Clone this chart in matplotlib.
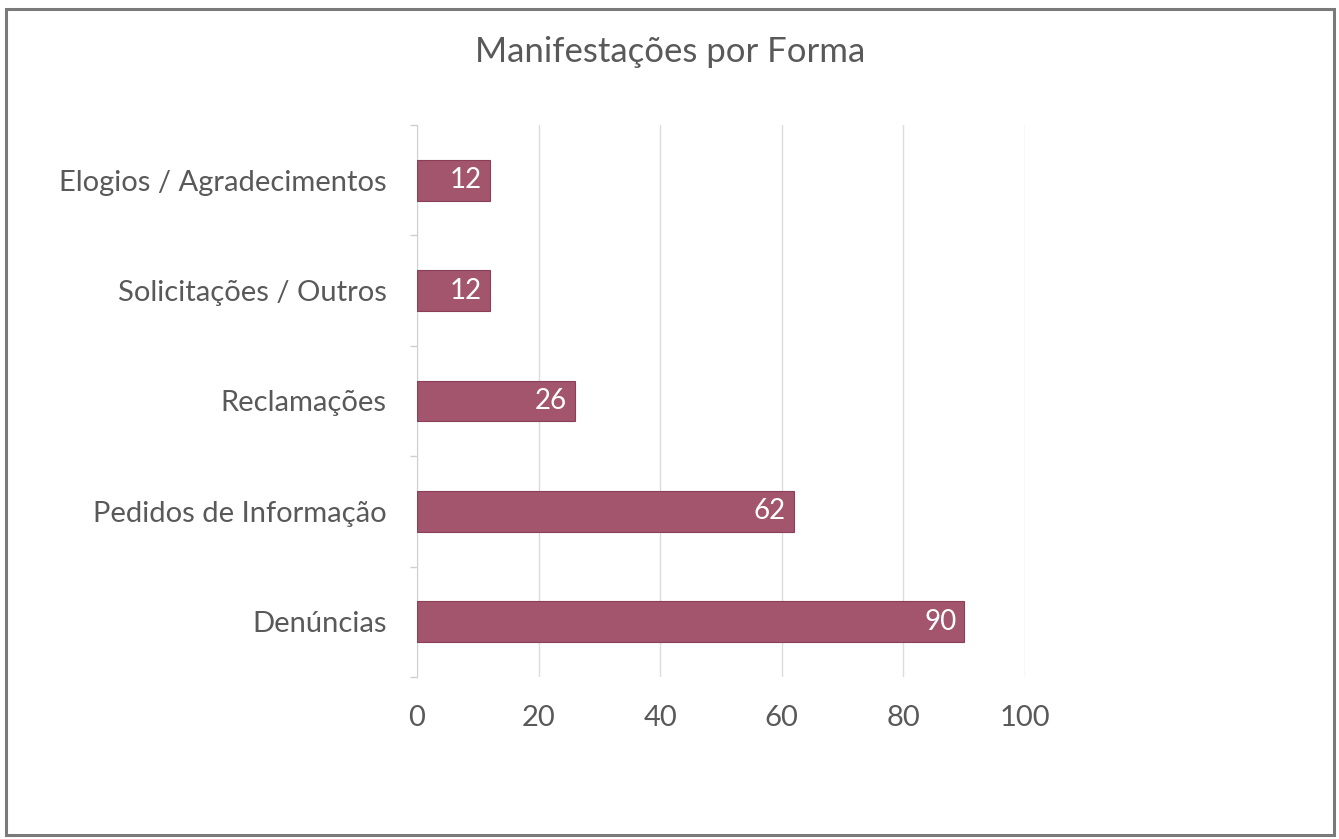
import matplotlib
matplotlib.use("Agg")
import matplotlib.pyplot as plt
from matplotlib.patches import Rectangle

categories = ["Denúncias", "Pedidos de Informação", "Reclamações",
              "Solicitações / Outros", "Elogios / Agradecimentos"]
values = [90, 62, 26, 12, 12]
xticks = [0, 20, 40, 60, 80, 100]
title = "Manifestações por Forma"

plt.rcParams['font.family'] = ['Lato', 'DejaVu Sans']

fig = plt.figure(figsize=(13.39, 8.39), dpi=100)
fig.patches.append(Rectangle((6/1339, 4/839), 1328/1339, 826/839, transform=fig.transFigure,
                             fill=False, edgecolor='#7a7a7a', linewidth=2.2))
ax = fig.add_axes([417/1339, 1-677/839, 608/1339, 552/839])

bar_color = '#a2556c'
y = list(range(len(categories)))
bars = ax.barh(y, values, height=0.37, color=bar_color, edgecolor='#8a4058', linewidth=0.8, zorder=3)
for yi, v in zip(y, values):
    ax.text(v - 1.3, yi, str(v), ha='right', va='center', color='white', fontsize=20, zorder=4)

ax.set_xlim(0, 100)
ax.set_ylim(-0.5, len(categories) - 0.5)
ax.set_xticks(xticks)
ax.set_xticklabels([str(t) for t in xticks])
ax.set_yticks(y)
ax.set_yticklabels(categories)
ax.tick_params(axis='x', length=0, pad=20, labelsize=21, labelcolor='#595959')
ax.tick_params(axis='y', length=0, pad=22, labelsize=21, labelcolor='#595959')
ax.set_yticks([i - 0.5 for i in range(len(categories) + 1)], minor=True)
ax.tick_params(axis='y', which='minor', length=5, color='#d0d0d0', width=1)
ax.grid(axis='x', color='#dcdcdc', linewidth=1, zorder=0)
for s in ['top', 'right', 'bottom']:
    ax.spines[s].set_visible(False)
ax.spines['left'].set_color('#d0d0d0')

fig.text(670/1339, 1-52/839, title, ha='center', va='center', fontsize=25, color='#595959')

fig.savefig("out.png", dpi=100)
